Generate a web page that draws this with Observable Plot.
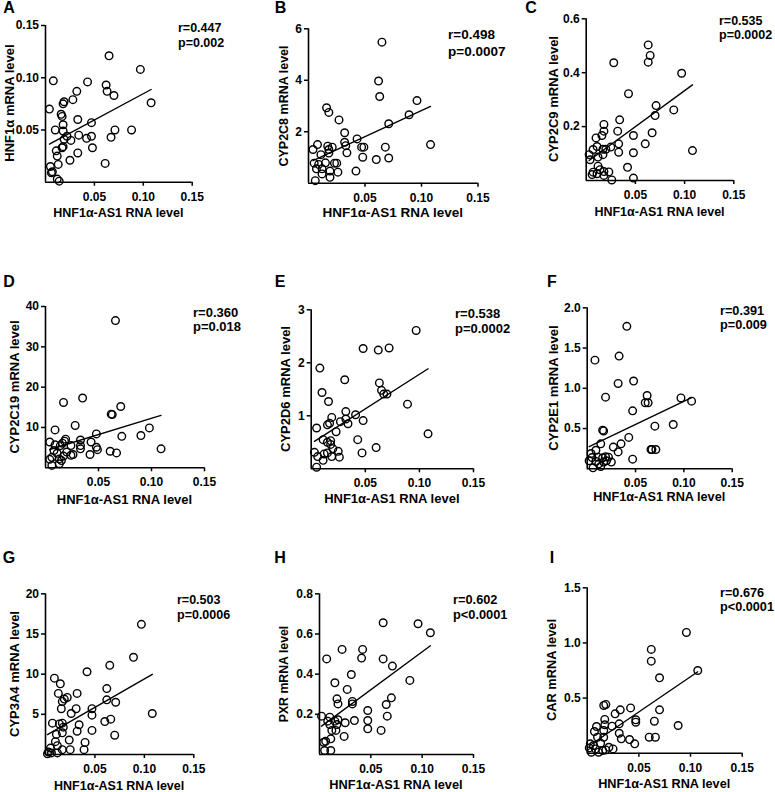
<!DOCTYPE html>
<html>
<head>
<meta charset="utf-8">
<script src="https://cdn.jsdelivr.net/npm/d3@7"></script>
<script src="https://cdn.jsdelivr.net/npm/@observablehq/plot@0.6"></script>
<style>
  html, body { margin: 0; padding: 0; background: #fff; }
  #root { position: relative; width: 775px; height: 792px; background: #fff; overflow: hidden;
          font-family: "Liberation Sans", Arial, sans-serif; font-weight: bold; color: #000; }
  .t { position: absolute; white-space: nowrap; line-height: 1; }
</style>
</head>
<body>
<div id="root"></div>
<script>
// ---------- data ----------
const xLabel = "HNF1α-AS1 RNA level";
const xDomain = [0, 0.15];
const xTicks = [0.05, 0.10, 0.15];

const aX = [0.065,0.097,0.008,0.043,0.062,0.063,0.032,0.070,0.028,0.019,0.018,0.108,0.004,0.016,0.017,0.033,0.018,0.047,0.010,0.071,0.088,0.018,0.034,0.022,0.042,0.047,0.067,0.026,0.019,0.018,0.017,0.048,0.011,0.033,0.012,0.025,0.061,0.005,0.013,0.007,0.006,0.012,0.014];
const aY = [0.121,0.108,0.097,0.096,0.093,0.087,0.087,0.083,0.079,0.077,0.075,0.076,0.070,0.065,0.063,0.060,0.055,0.057,0.050,0.050,0.050,0.049,0.045,0.044,0.042,0.044,0.043,0.040,0.041,0.034,0.033,0.033,0.030,0.028,0.025,0.021,0.018,0.015,0.017,0.010,0.009,0.003,0.001];

const bX = [0.065,0.062,0.063,0.096,0.016,0.018,0.027,0.089,0.071,0.032,0.032,0.043,0.033,0.034,0.047,0.049,0.068,0.108,0.048,0.060,0.071,0.042,0.004,0.008,0.011,0.005,0.007,0.012,0.012,0.006,0.017,0.018,0.018,0.021,0.015,0.023,0.025,0.019,0.026,0.019,0.009];
const bY = [5.48,3.97,3.37,3.21,2.93,2.75,2.46,2.66,2.31,1.96,1.59,1.72,1.46,1.18,1.40,1.40,1.40,1.50,1.01,0.92,0.98,0.47,1.31,1.50,1.11,0.78,0.56,0.56,0.36,0.10,1.44,1.31,1.17,1.40,0.79,0.78,0.78,0.47,0.43,0.23,0.73];

const cX = [0.063,0.065,0.063,0.028,0.097,0.043,0.071,0.089,0.070,0.034,0.018,0.032,0.018,0.016,0.048,0.067,0.010,0.033,0.060,0.011,0.025,0.017,0.020,0.007,0.017,0.033,0.048,0.108,0.003,0.004,0.012,0.042,0.012,0.014,0.007,0.011,0.018,0.023,0.018,0.006,0.026,0.048];
const cY = [0.503,0.464,0.439,0.437,0.398,0.322,0.278,0.262,0.241,0.225,0.208,0.183,0.183,0.167,0.167,0.177,0.158,0.136,0.136,0.126,0.124,0.116,0.116,0.115,0.096,0.105,0.103,0.111,0.096,0.077,0.087,0.049,0.053,0.040,0.031,0.025,0.033,0.032,0.019,0.022,0.002,0.009];

const dX = [0.066,0.035,0.017,0.071,0.063,0.062,0.028,0.009,0.098,0.090,0.048,0.072,0.033,0.019,0.018,0.016,0.004,0.009,0.014,0.024,0.033,0.043,0.048,0.049,0.033,0.061,0.067,0.109,0.042,0.026,0.024,0.017,0.011,0.006,0.013,0.004,0.015,0.006,0.013,0.020,0.008];
const dY = [36.5,17.3,16.2,15.2,13.2,13.3,10.5,9.4,9.9,8.0,8.4,7.8,6.9,7.1,6.6,6.1,6.4,5.7,5.5,5.5,5.5,6.4,5.1,4.5,4.7,4.1,3.7,4.7,3.3,3.3,3.1,2.9,3.6,2.6,2.2,2.1,1.8,0.6,1.0,3.9,4.3];

const eX = [0.097,0.048,0.062,0.072,0.008,0.031,0.063,0.010,0.065,0.067,0.070,0.089,0.016,0.032,0.041,0.019,0.032,0.027,0.048,0.034,0.017,0.015,0.005,0.023,0.108,0.011,0.015,0.018,0.018,0.043,0.020,0.060,0.003,0.012,0.025,0.047,0.006,0.019,0.026,0.011,0.005,0.015];
const eY = [2.61,2.27,2.24,2.28,1.90,1.68,1.62,1.44,1.48,1.41,1.41,1.22,1.27,1.08,1.02,0.97,0.94,0.89,0.91,0.85,0.86,0.83,0.77,0.70,0.66,0.55,0.50,0.53,0.46,0.55,0.38,0.40,0.31,0.28,0.33,0.30,0.23,0.23,0.22,0.16,0.03,0.30];

const fX = [0.041,0.008,0.033,0.032,0.048,0.019,0.097,0.108,0.062,0.060,0.063,0.047,0.070,0.089,0.016,0.017,0.043,0.014,0.035,0.027,0.032,0.009,0.066,0.067,0.071,0.004,0.005,0.047,0.011,0.016,0.019,0.022,0.025,0.017,0.012,0.009,0.006,0.014,0.020,0.002];
const fY = [1.77,1.35,1.40,1.06,1.09,0.89,0.88,0.84,0.91,0.82,0.82,0.72,0.53,0.55,0.48,0.47,0.39,0.31,0.31,0.27,0.21,0.23,0.24,0.24,0.24,0.19,0.14,0.12,0.145,0.137,0.15,0.145,0.083,0.083,0.062,0.091,0.012,0.029,0.10,0.10];

const gX = [0.097,0.089,0.065,0.042,0.009,0.015,0.062,0.013,0.032,0.022,0.019,0.017,0.062,0.071,0.031,0.016,0.047,0.026,0.108,0.047,0.066,0.060,0.007,0.017,0.014,0.034,0.018,0.017,0.032,0.047,0.011,0.070,0.024,0.010,0.040,0.012,0.017,0.025,0.039,0.005,0.003,0.006,0.012,0.002];
const gY = [16.2,12.1,11.1,10.3,9.5,8.8,8.2,7.6,7.6,7.1,6.9,6.6,6.8,6.5,5.7,5.7,5.7,5.1,5.1,4.9,4.4,4.1,3.9,3.9,3.8,3.7,3.4,2.7,2.9,3.0,2.5,2.4,1.8,1.6,1.5,1.1,0.6,0.6,0.6,0.8,0.3,0.2,0.2,0.1];

const hX = [0.062,0.096,0.108,0.022,0.042,0.007,0.041,0.062,0.071,0.031,0.015,0.088,0.027,0.017,0.018,0.032,0.032,0.070,0.065,0.047,0.002,0.010,0.066,0.008,0.015,0.018,0.025,0.034,0.047,0.010,0.017,0.012,0.016,0.047,0.060,0.011,0.024,0.004,0.006,0.005,0.011];
const hY = [0.656,0.651,0.606,0.523,0.523,0.476,0.480,0.476,0.440,0.398,0.357,0.369,0.324,0.277,0.252,0.264,0.252,0.282,0.249,0.219,0.191,0.186,0.191,0.166,0.166,0.173,0.158,0.169,0.169,0.149,0.149,0.12,0.12,0.128,0.12,0.078,0.09,0.061,0.066,0.02,0.02];

const iX = [0.096,0.062,0.062,0.107,0.070,0.016,0.018,0.042,0.032,0.070,0.027,0.017,0.047,0.047,0.065,0.031,0.009,0.024,0.017,0.088,0.007,0.016,0.031,0.010,0.016,0.033,0.041,0.060,0.066,0.046,0.013,0.003,0.006,0.002,0.008,0.021,0.025,0.018,0.004,0.011,0.015];
const iY = [1.095,0.941,0.835,0.750,0.684,0.433,0.442,0.411,0.393,0.393,0.357,0.306,0.303,0.281,0.29,0.266,0.242,0.245,0.257,0.251,0.197,0.206,0.181,0.145,0.145,0.13,0.124,0.145,0.145,0.085,0.091,0.085,0.07,0.048,0.039,0.054,0.039,0.03,0.009,0.009,0.024];

const panelKeys   = ["A","B","C","D","E","F","G","H","I"];
const yLabels     = ["HNF1α mRNA level","CYP2C8 mRNA level","CYP2C9 mRNA level","CYP2C19 mRNA level","CYP2D6 mRNA level","CYP2E1 mRNA level","CYP3A4 mRNA level","PXR mRNA level","CAR mRNA level"];
const yDomains    = [[0,0.15],[0,6],[0,0.6],[0,40],[0,3],[0,2],[0,20],[0,0.8],[0,1.5]];
const yTickSets   = [[0.05,0.10,0.15],[2,4,6],[0.2,0.4,0.6],[10,20,30,40],[1,2,3],[0.5,1.0,1.5,2.0],[5,10,15,20],[0.2,0.4,0.6,0.8],[0.5,1.0,1.5]];
const yTickFormats= [".2f","d",".1f","d","d",".1f","d",".1f",".1f"];
const rTexts      = ["r=0.447","r=0.498","r=0.535","r=0.360","r=0.538","r=0.391","r=0.503","r=0.602","r=0.676"];
const pTexts      = ["p=0.002","p=0.0007","p=0.0002","p=0.018","p=0.0002","p=0.009","p=0.0006","p<0.0001","p<0.0001"];
const xSeries     = [aX,bX,cX,dX,eX,fX,gX,hX,iX];
const ySeries     = [aY,bY,cY,dY,eY,fY,gY,hY,iY];

// ---------- layout (pixel positions of each panel) ----------
const layout = [
  {cell:[0,0,258,260],     frame:[45,191.7,25,181.7],      letter:[9,8],       ylab:9,   stat:[178,28,43],  xlab:213, fs:12.5, yfs:13},
  {cell:[258,0,257,260],   frame:[308,477.5,28.3,182.7],   letter:[280.5,8],   ylab:284, stat:[448,35,52],  xlab:213, fs:13.5, yfs:12.5},
  {cell:[515,0,260,260],   frame:[585.7,733.3,18.3,180],   letter:[531,8],     ylab:553, stat:[719,21,35],  xlab:212, fs:12.5, yfs:13},
  {cell:[0,260,258,270],   frame:[45,204,306,467.3],       letter:[9,281.5],   ylab:14,  stat:[193,312,326],xlab:499, fs:13,   yfs:13},
  {cell:[258,260,257,270], frame:[310.7,473,309.3,468.3],  letter:[280,282],   ylab:285, stat:[455,313,328],xlab:498, fs:13,   yfs:13},
  {cell:[515,260,260,270], frame:[586.7,731.7,307.3,468.3],letter:[552,282],   ylab:553, stat:[720,311,325],xlab:497, fs:12.7, yfs:13},
  {cell:[0,530,258,262],   frame:[45,193.3,593.3,754],     letter:[9,557.5],   ylab:14,  stat:[177,600,615],xlab:786, fs:12.5, yfs:13},
  {cell:[258,530,257,262], frame:[319,473,593.3,754],      letter:[280,557.5], ylab:284, stat:[453,600,615],xlab:785, fs:12.8, yfs:12.3},
  {cell:[515,530,260,262], frame:[586.7,741.7,587.3,752.7],letter:[552,557.5], ylab:552, stat:[720,593,607],xlab:784, fs:12.7, yfs:12.8}
];

const root = document.getElementById("root");
function addText(txt, x, y, size, transform) {
  const d = document.createElement("div");
  d.className = "t";
  d.textContent = txt;
  d.style.left = x + "px";
  d.style.top = y + "px";
  d.style.fontSize = size + "px";
  d.style.transform = transform;
  root.appendChild(d);
}

panelKeys.forEach((key, i) => {
  const L = layout[i];
  const [cx, cy, cw, ch] = L.cell;
  const [fl, fr, ft, fb] = L.frame;
  const n = Math.min(xSeries[i].length, ySeries[i].length);
  const data = d3.range(n).map(k => ({x: xSeries[i][k], y: ySeries[i][k]}));
  const yDomain = yDomains[i];

  const svg = Plot.plot({
    width: cw, height: ch,
    marginLeft: fl - cx, marginRight: cx + cw - fr,
    marginTop: ft - cy, marginBottom: cy + ch - fb,
    x: {domain: xDomain, label: null},
    y: {domain: yDomain, label: null},
    style: {fontFamily: '"Liberation Sans", Arial, sans-serif', fontSize: "12px", fontWeight: "bold",
            color: "#000", background: "transparent", overflow: "visible"},
    marks: [
      Plot.axisX({ticks: xTicks, tickFormat: d3.format(".2f"), tickSize: 4, tickPadding: 6, strokeWidth: 1.5, label: null}),
      Plot.axisY({ticks: yTickSets[i], tickFormat: d3.format(yTickFormats[i]), tickSize: 4, tickPadding: 2.5, strokeWidth: 1.5, label: null}),
      Plot.ruleX(xDomain.slice(0, 1), {stroke: "#000", strokeWidth: 1.6}),
      Plot.ruleY(yDomain.slice(0, 1), {stroke: "#000", strokeWidth: 1.6}),
      Plot.linearRegressionY(data, {x: "x", y: "y", ci: 0, stroke: "#000", strokeWidth: 1.4}),
      Plot.dot(data, {x: "x", y: "y", r: 3.8, stroke: "#000", strokeWidth: 1.4, fill: "none"})
    ]
  });
  svg.style.position = "absolute";
  svg.style.left = cx + "px";
  svg.style.top = cy + "px";
  root.appendChild(svg);

  // panel letter
  addText(key, L.letter[0], L.letter[1], 16, "translate(-50%,-50%)");
  // x-axis label
  addText(xLabel, (fl + fr) / 2, L.xlab, L.fs, "translate(-50%,-50%)");
  // y-axis label (rotated)
  addText(yLabels[i], L.ylab, (ft + fb) / 2, L.yfs, "translate(-50%,-50%) rotate(-90deg)");
  // r / p
  addText(rTexts[i], L.stat[0], L.stat[1], L.fs, "translate(0,-50%)");
  addText(pTexts[i], L.stat[0], L.stat[2], L.fs, "translate(0,-50%)");
});
</script>
</body>
</html>
